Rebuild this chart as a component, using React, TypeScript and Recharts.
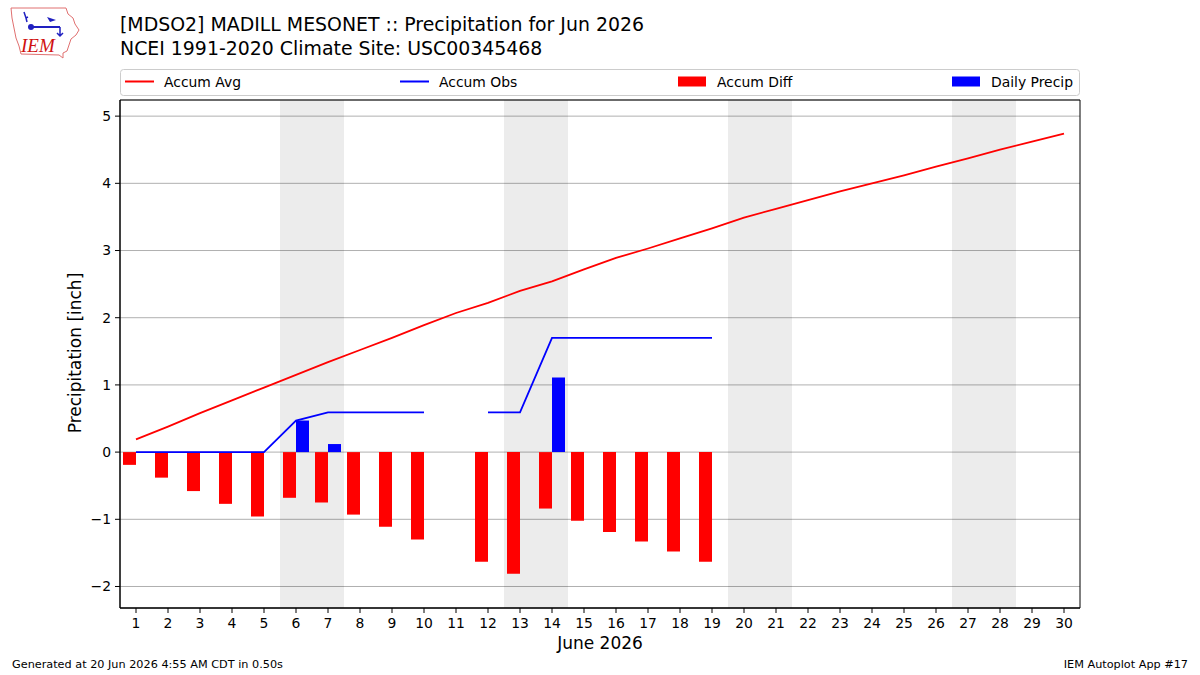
import React from 'react';
import {
  ComposedChart,
  Bar,
  Line,
  XAxis,
  YAxis,
  CartesianGrid,
  ReferenceArea,
} from 'recharts';

// Day of month, June 2026
const days = [
  1, 2, 3, 4, 5, 6, 7, 8, 9, 10, 11, 12, 13, 14, 15,
  16, 17, 18, 19, 20, 21, 22, 23, 24, 25, 26, 27, 28, 29, 30,
];

// Climatological accumulated precipitation [inch]
const accumAvg = [
  0.19, 0.38, 0.58, 0.77, 0.96, 1.15, 1.34, 1.52, 1.7, 1.89,
  2.07, 2.22, 2.4, 2.54, 2.72, 2.89, 3.03, 3.18, 3.33, 3.49,
  3.62, 3.75, 3.88, 4.0, 4.12, 4.25, 4.37, 4.5, 4.62, 4.74,
];

// Observed accumulated precipitation [inch] (null = missing)
const accumObs: (number | null)[] = [
  0, 0, 0, 0, 0, 0.47, 0.59, 0.59, 0.59, 0.59,
  null, 0.59, 0.59, 1.7, 1.7, 1.7, 1.7, 1.7, 1.7, null,
  null, null, null, null, null, null, null, null, null, null,
];

// Observed minus climatology [inch]
const accumDiff: (number | null)[] = [
  -0.19, -0.38, -0.58, -0.77, -0.96, -0.68, -0.75, -0.93, -1.11, -1.3,
  null, -1.63, -1.81, -0.84, -1.02, -1.19, -1.33, -1.48, -1.63, null,
  null, null, null, null, null, null, null, null, null, null,
];

// Daily precipitation [inch]
const dailyPrecip: (number | null)[] = [
  null, null, null, null, null, 0.47, 0.12, null, null, null,
  null, null, null, 1.11, null, null, null, null, null, null,
  null, null, null, null, null, null, null, null, null, null,
];

// Saturday/Sunday pairs
const weekends: [number, number][] = [
  [6, 7],
  [13, 14],
  [20, 21],
  [27, 28],
];

const yTicks = [-2, -1, 0, 1, 2, 3, 4, 5];
const yDomain: [number, number] = [-2.32, 5.24];

const titleLines = [
  '[MDSO2] MADILL MESONET :: Precipitation for Jun 2026',
  'NCEI 1991-2020 Climate Site: USC00345468',
];
const xLabel = 'June 2026';
const yLabel = 'Precipitation [inch]';
const footerLeft = 'Generated at 20 Jun 2026 4:55 AM CDT in 0.50s';
const footerRight = 'IEM Autoplot App #17';

const FONT = '"DejaVu Sans", sans-serif';

const fmtTick = (v: number) => String(v).replace('-', '\u2212');

function Logo() {
  return (
    <g>
      <path
        d="M11,8 L66,8 L68,14 L73,18 L75,24 L79,30 L76,35 L71,39 L69,45 L67,51 L63,53 L63,58 L59,55 L21,54 L19,46 L16,38 L14,28 L12,18 Z"
        fill="#fff"
        stroke="#e07070"
        strokeWidth={1}
      />
      <path d="M24,12 L26,18 L28,17 M26,18 L27,22" stroke="#2020c0" strokeWidth={1.5} fill="none" />
      <line x1={31} y1={27} x2={60} y2={27} stroke="#2020c0" strokeWidth={2} />
      <circle cx={31} cy={27} r={3} fill="#2020c0" />
      <path d="M47,17 L56,20 L50,22 Z" fill="#2020c0" />
      <path d="M60,27 L60,36 M57,33 L60,36 L63,33" stroke="#2020c0" strokeWidth={1.5} fill="none" />
      <text
        x={21}
        y={52}
        fill="#d01010"
        fontFamily='"Liberation Serif", serif'
        fontStyle="italic"
        fontSize={19}
      >
        IEM
      </text>
    </g>
  );
}

function LegendBox() {
  const items = [
    { label: 'Accum Avg', color: '#ff0000', kind: 'line', x: 125 },
    { label: 'Accum Obs', color: '#0000ff', kind: 'line', x: 400 },
    { label: 'Accum Diff', color: '#ff0000', kind: 'rect', x: 678 },
    { label: 'Daily Precip', color: '#0000ff', kind: 'rect', x: 952 },
  ];
  return (
    <g>
      <rect x={120.5} y={69.5} width={959} height={26} rx={3} fill="#fff" fillOpacity={0.8} stroke="#cccccc" />
      {items.map((it) => (
        <g key={it.label}>
          {it.kind === 'line' ? (
            <line x1={it.x} x2={it.x + 29} y1={81.5} y2={81.5} stroke={it.color} strokeWidth={2} />
          ) : (
            <rect x={it.x} y={76.5} width={28} height={10} fill={it.color} />
          )}
          <text x={it.x + 39} y={87} fontSize={13.9} fontFamily={FONT} fill="#000">
            {it.label}
          </text>
        </g>
      ))}
    </g>
  );
}

export default function App() {
  const data = days.map((d, i) => ({
    day: d,
    avg: accumAvg[i],
    obs: accumObs[i],
    diff: accumDiff[i],
    daily: dailyPrecip[i],
  }));

  const tickStyle = { fill: '#000', fontSize: 13.9, fontFamily: FONT };

  return (
    <div
      style={{
        position: 'absolute',
        left: 0,
        top: 0,
        width: 1200,
        height: 675,
        background: '#fff',
        fontFamily: FONT,
      }}
    >
      <ComposedChart
        width={1200}
        height={675}
        data={data}
        margin={{ top: 100, right: 120, bottom: 37, left: 60 }}
        barGap={0}
        barCategoryGap={0}
      >
        {weekends.map(([a, b]) => (
          <ReferenceArea
            key={a}
            x1={a}
            x2={b}
            fill="#000"
            fillOpacity={0.075}
            stroke="none"
            ifOverflow="visible"
          />
        ))}
        <CartesianGrid vertical={false} stroke="#b0b0b0" strokeWidth={1} />
        <XAxis
          dataKey="day"
          type="category"
          height={30}
          interval={0}
          tick={tickStyle}
          tickSize={5}
          tickMargin={5}
          tickLine={{ stroke: '#000' }}
          axisLine={{ stroke: '#000' }}
        />
        <YAxis
          type="number"
          width={60}
          domain={yDomain}
          ticks={yTicks}
          allowDataOverflow
          tickFormatter={fmtTick}
          tick={tickStyle}
          tickSize={5}
          tickMargin={4}
          tickLine={{ stroke: '#000' }}
          axisLine={{ stroke: '#000' }}
        />
        <Bar dataKey="diff" fill="#ff0000" barSize={13} isAnimationActive={false} />
        <Bar dataKey="daily" fill="#0000ff" barSize={13} isAnimationActive={false} />
        <Line
          dataKey="avg"
          type="linear"
          stroke="#ff0000"
          strokeWidth={1.8}
          dot={false}
          activeDot={false}
          isAnimationActive={false}
        />
        <Line
          dataKey="obs"
          type="linear"
          stroke="#0000ff"
          strokeWidth={1.8}
          dot={false}
          activeDot={false}
          connectNulls={false}
          isAnimationActive={false}
        />
        <ReferenceArea
          x1={1}
          x2={30}
          y1={yDomain[0]}
          y2={yDomain[1]}
          fill="none"
          stroke="#000"
          strokeWidth={1}
          ifOverflow="visible"
        />
      </ComposedChart>

      <svg
        width={1200}
        height={675}
        style={{ position: 'absolute', left: 0, top: 0, pointerEvents: 'none' }}
      >
        <Logo />
        <text x={120} y={31} fontSize={18.9} fontFamily={FONT} fill="#000">
          {titleLines[0]}
        </text>
        <text x={120} y={54.5} fontSize={18.9} fontFamily={FONT} fill="#000">
          {titleLines[1]}
        </text>
        <LegendBox />
        <text x={600} y={649} fontSize={17} fontFamily={FONT} fill="#000" textAnchor="middle">
          {xLabel}
        </text>
        <text
          x={81}
          y={353}
          fontSize={17}
          fontFamily={FONT}
          fill="#000"
          textAnchor="middle"
          transform="rotate(-90 81 353)"
        >
          {yLabel}
        </text>
        <text x={12} y={668} fontSize={11.25} fontFamily={FONT} fill="#000">
          {footerLeft}
        </text>
        <text x={1188} y={668} fontSize={11.25} fontFamily={FONT} fill="#000" textAnchor="end">
          {footerRight}
        </text>
      </svg>
    </div>
  );
}
